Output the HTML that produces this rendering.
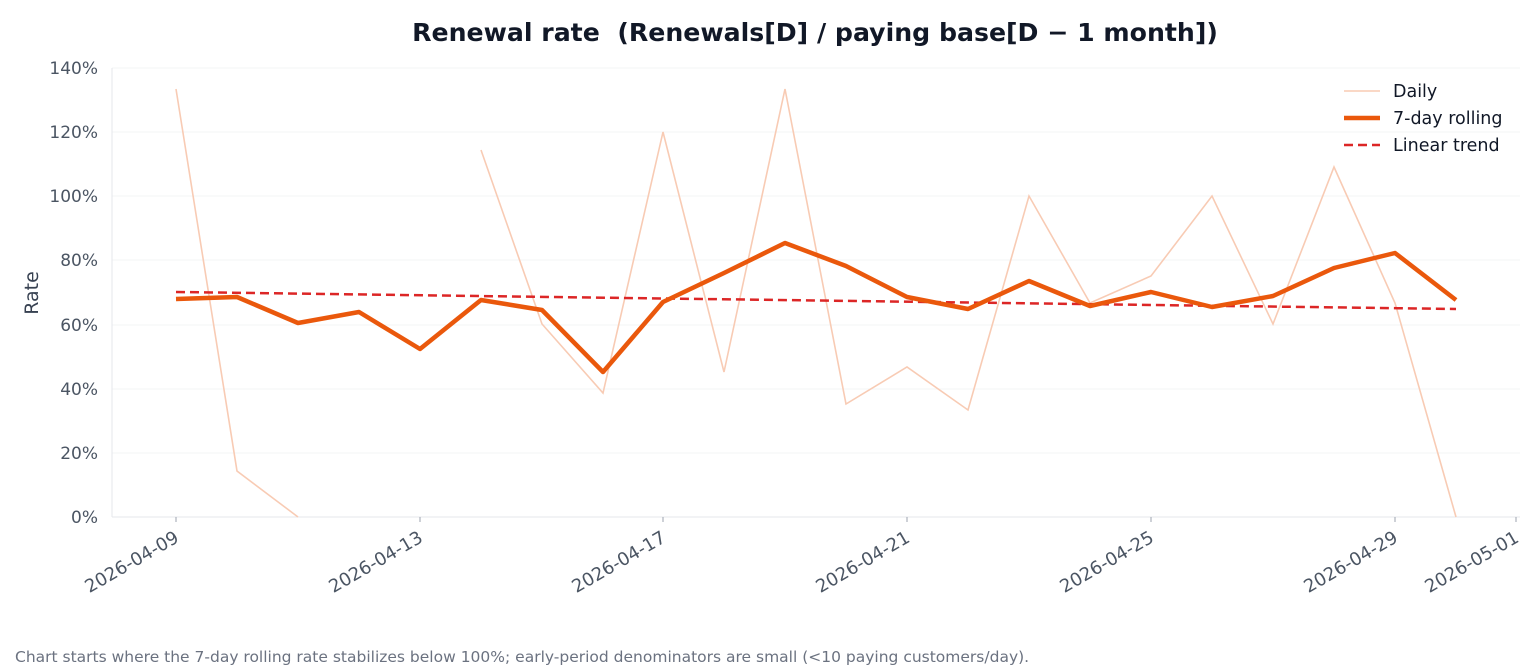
<!DOCTYPE html>
<html><head><meta charset="utf-8"><style>
body{margin:0;background:#fff;}
svg{display:block;font-family:"DejaVu Sans","Liberation Sans",sans-serif;}
</style></head><body>
<svg width="1540" height="672" viewBox="0 0 1540 672" xmlns="http://www.w3.org/2000/svg">
<rect width="1540" height="672" fill="#fff"/>
<text x="815" y="41" text-anchor="middle" font-size="25.2" font-weight="bold" fill="#111827" xml:space="preserve">Renewal rate  (Renewals[D] / paying base[D − 1 month])</text>
<g stroke="#f3f4f6" stroke-width="1">
<line x1="112" x2="1520" y1="68" y2="68"/><line x1="112" x2="1520" y1="132" y2="132"/>
<line x1="112" x2="1520" y1="196" y2="196"/><line x1="112" x2="1520" y1="260" y2="260"/>
<line x1="112" x2="1520" y1="325" y2="325"/><line x1="112" x2="1520" y1="389" y2="389"/>
<line x1="112" x2="1520" y1="453" y2="453"/>
</g>
<line x1="112" y1="68" x2="112" y2="517" stroke="#e5e7eb"/>
<line x1="112" y1="517" x2="1520" y2="517" stroke="#e5e7eb"/>
<g font-size="17" fill="#4b5563" text-anchor="end">
<text x="98" y="74">140%</text><text x="98" y="138">120%</text><text x="98" y="202">100%</text>
<text x="98" y="266">80%</text><text x="98" y="331">60%</text><text x="98" y="395">40%</text>
<text x="98" y="459">20%</text><text x="98" y="523">0%</text>
</g>
<text transform="translate(38,293) rotate(-90)" text-anchor="middle" font-size="19" fill="#374151">Rate</text>
<g stroke="#9ca3af"><line x1="176" x2="176" y1="517" y2="522"/><line x1="420" x2="420" y1="517" y2="522"/><line x1="663" x2="663" y1="517" y2="522"/><line x1="907" x2="907" y1="517" y2="522"/><line x1="1151" x2="1151" y1="517" y2="522"/><line x1="1395" x2="1395" y1="517" y2="522"/><line x1="1516" x2="1516" y1="517" y2="522"/></g>
<g font-size="18" fill="#4b5563" text-anchor="end">
<text transform="translate(180,541) rotate(-30)">2026-04-09</text>
<text transform="translate(424,541) rotate(-30)">2026-04-13</text>
<text transform="translate(667,541) rotate(-30)">2026-04-17</text>
<text transform="translate(911,541) rotate(-30)">2026-04-21</text>
<text transform="translate(1155,541) rotate(-30)">2026-04-25</text>
<text transform="translate(1399,541) rotate(-30)">2026-04-29</text>
<text transform="translate(1520,541) rotate(-30)">2026-05-01</text>
</g>
<g fill="none" stroke="#f8cbb4" stroke-width="1.6">
<polyline points="176,89 237,471 298,517"/>
<polyline points="481,150 542,324 603,393 663,132 724,372 785,89 846,404 907,367 968,410 1029,196 1090,303 1151,276 1212,196 1273,324 1334,167 1395,303 1456,517"/>
</g>
<line x1="176" y1="292" x2="1456" y2="309" stroke="#dc2626" stroke-width="2.5" stroke-dasharray="9,5"/>
<polyline fill="none" stroke="#ea580c" stroke-width="4.5" stroke-linejoin="round" points="176,299 237,297 298,323 359,312 420,349 481,300 542,310 603,372 663,302 724,273 785,243 846,266 907,297 968,309 1029,281 1090,306 1151,292 1212,307 1273,296 1334,268 1395,253 1456,300"/>
<line x1="1344" y1="91" x2="1380" y2="91" stroke="#f8cbb4" stroke-width="1.6"/>
<line x1="1344" y1="118" x2="1380" y2="118" stroke="#ea580c" stroke-width="4.5"/>
<line x1="1344" y1="145" x2="1380" y2="145" stroke="#dc2626" stroke-width="2.5" stroke-dasharray="9,5"/>
<g font-size="17.5" fill="#111827">
<text x="1393" y="97">Daily</text><text x="1393" y="124">7-day rolling</text><text x="1393" y="151">Linear trend</text>
</g>
<text x="15" y="662" font-size="15.5" fill="#6b7280">Chart starts where the 7-day rolling rate stabilizes below 100%; early-period denominators are small (&lt;10 paying customers/day).</text>
</svg>
</body></html>
